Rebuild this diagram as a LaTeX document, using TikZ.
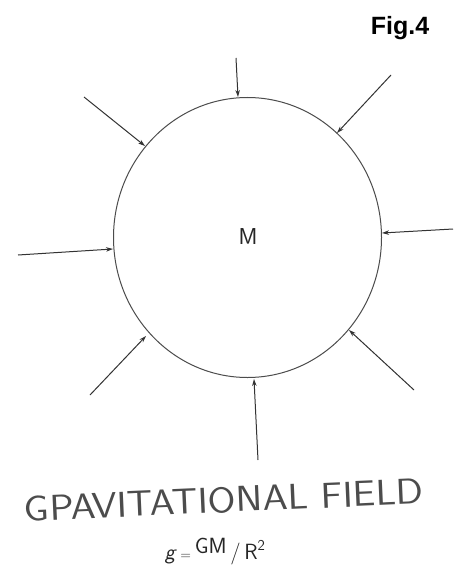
\documentclass[tikz,border=0pt]{standalone}
\usepackage{fontspec}
\newfontfamily\figfont{Liberation Sans}
\usetikzlibrary{arrows.meta,shapes.geometric}
\begin{document}
\begin{tikzpicture}[x=1pt,y=-1pt,
  body/.style={draw=black!70, line width=1pt},
  field/.style={draw=black!80, line width=1pt, -{Stealth[length=7pt,width=4.5pt]}},
  lbl/.style={inner sep=0pt, font=\sffamily}]
\useasboundingbox (0,0) rectangle (454,572);
\fill[white] (0,0) rectangle (454,572);
\node[body, ellipse, minimum width=268pt, minimum height=280pt, inner sep=0pt] (m) at (247.5,237.5) {};
\node[lbl, text=black!85, font=\sffamily\fontsize{23}{23}\selectfont] (mlabel) at (248,237) {M};
\node[lbl, font=\figfont\bfseries\fontsize{25}{25}\selectfont, anchor=base] (fig) at (400,35) {Fig.4};
% arrows
\coordinate (s1) at (236,58);   \coordinate (e1) at (238,97);
\coordinate (s2) at (391,75);   \coordinate (e2) at (337,133);
\coordinate (s3) at (453,229);  \coordinate (e3) at (382,233);
\coordinate (s4) at (414,390);  \coordinate (e4) at (349,330);
\coordinate (s5) at (258,460);  \coordinate (e5) at (254,379);
\coordinate (s6) at (90,395);   \coordinate (e6) at (146,336);
\coordinate (s7) at (18,255);   \coordinate (e7) at (113,249);
\coordinate (s8) at (84,97);    \coordinate (e8) at (145,146);
\foreach \i in {1,...,8} \draw[field] (s\i) -- (e\i);
\node[lbl, text=black!70, font=\sffamily\fontsize{36}{36}\selectfont, rotate=2.5, xscale=1.12] (title) at (224,500) {GPAVITATIONAL FIELD};
\node[lbl, text=black!85, font=\sffamily\fontsize{22}{22}\selectfont] (formula) at (215,552) {\textit{g}\,{\fontsize{14}{14}\selectfont=}\,\raisebox{6pt}{GM}\,/\,R\raisebox{9pt}{\fontsize{15}{15}\selectfont 2}};
\end{tikzpicture}
\end{document}
